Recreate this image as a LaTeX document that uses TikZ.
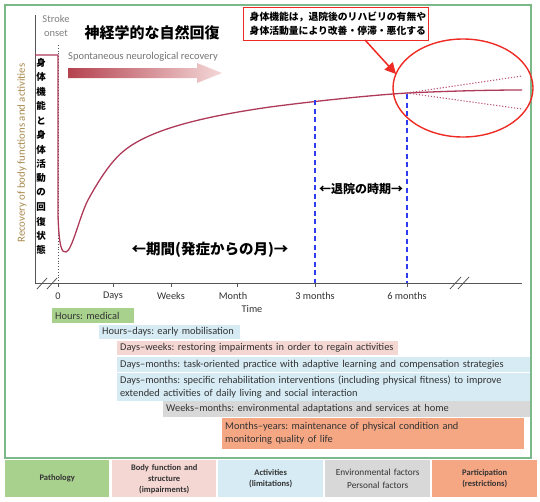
\documentclass[tikz,border=0pt]{standalone}
\usepackage{fontspec}
\setmainfont{Carlito}
\newfontfamily\jp{Noto Sans CJK JP}
\usetikzlibrary{arrows.meta}
\definecolor{framegreen}{HTML}{7DB88A}
\definecolor{curvered}{HTML}{AE3A5A}
\definecolor{axisgray}{HTML}{555555}
\definecolor{bartext}{HTML}{333333}
\definecolor{labelgold}{HTML}{A8894C}
\definecolor{fillgreen}{HTML}{A9D18E}
\definecolor{fillpink}{HTML}{F4D6D2}
\definecolor{fillblue}{HTML}{D6EBF4}
\definecolor{fillgray}{HTML}{D8D8D8}
\definecolor{fillsalmon}{HTML}{F5A784}
\definecolor{shadedark}{HTML}{B4424F}
\definecolor{shadelight}{HTML}{F4D8D8}
\definecolor{markred}{HTML}{EE2A24}
\definecolor{dashblue}{HTML}{2F3CF0}
\frenchspacing
\begin{document}
\begin{tikzpicture}[x=1pt,y=-1pt,
    every node/.style={inner sep=0pt},
    bar/.style={anchor=north west, inner xsep=3pt, align=left, text=bartext,
        font=\fontsize{10.4}{13}\selectfont},
    cell/.style={anchor=north west, minimum height=37pt, text width=105pt, align=center,
        text=bartext, font=\bfseries\fontsize{8.5}{11}\selectfont},
    tick/.style={text=bartext, font=\fontsize{10.3}{12}\selectfont},
    curve/.style={curvered, line width=1.3pt},
    branch/.style={curvered!85, line width=1.1pt, dash pattern=on 1.2pt off 1.8pt},
    jpbold/.style={font=\jp\bfseries}]
    \useasboundingbox (0,0) rectangle (540,501);
    % frame
    \draw [framegreen, line width=1.2pt] (5,5) rectangle (531,458);
    % axes
    \draw [axisgray, line width=0.9pt] (35,15) -- (35,283) -- (522,283);
    \draw [axisgray, dotted, line width=0.8pt] (58,45) -- (58,283);
    \foreach \x in {58,113,171,237,315,407}
        \draw [axisgray, line width=0.7pt] (\x,283) -- (\x,287);
    \draw [axisgray, line width=0.8pt] (37,289) -- (47,278) (47,289) -- (57,278);
    \draw [axisgray, line width=0.8pt] (450,289) -- (461,277) (458,289) -- (469,277);
    \node [tick] (t0) at (58,296) {0};
    \node [tick] (tdays) at (113,296) {Days};
    \node [tick] (tweeks) at (171,296) {Weeks};
    \node [tick] (tmonth) at (233,296) {Month};
    \node [tick] (tthree) at (315,296) {3 months};
    \node [tick] (tsix) at (407,296) {6 months};
    \node [tick] (time) at (252,309) {Time};
    % header texts
    \node [align=center, text=gray, font=\fontsize{10.5}{13.5}\selectfont] (onset) at (56,26) {Stroke\\onset};
    \node [jpbold, font=\jp\bfseries\fontsize{15}{18}\selectfont] (natural) at (152,33) {神経学的な自然回復};
    \node [text=gray!90!black, font=\fontsize{10.5}{12}\selectfont, anchor=west] (spont) at (68,57) {Spontaneous neurological recovery};
    \shade [left color=shadedark, right color=shadelight]
        (68,68) -- (197,68) -- (197,63) -- (222,73) -- (197,83) -- (197,78) -- (68,78) -- cycle;
    % y label
    \node [rotate=90, text=labelgold, font=\fontsize{10.8}{12}\selectfont] (ylab) at (22,153) {Recovery of body functions and activities};
    \foreach \c [count=\i] in {身,体,機,能,と,身,体,活,動,の,回,復,状,態}
        \node [font=\jp\bfseries\fontsize{9.5}{10}\selectfont] at (41,{63+14.4*(\i-1)}) {\c};
    % recovery curve
    \draw [curve] (35,55) -- (58,55) -- (58,215)
        .. controls (59,248) and (62,253) .. (66,252)
        .. controls (72,251) and (80,215) .. (88,200)
        .. controls (100,178) and (112,160) .. (125,150)
        .. controls (150,130) and (200,117) .. (270,107)
        .. controls (300,103) and (360,96) .. (407,93)
        .. controls (450,91) and (490,90) .. (522,90);
    \coordinate (fork) at (407,93);
    \coordinate (upend) at (522,76);
    \coordinate (downend) at (522,109);
    \draw [branch] (fork) -- (upend);
    \draw [branch] (fork) -- (downend);
    % discharge period
    \draw [dashblue, line width=1.1pt, dash pattern=on 5pt off 3.5pt] (315,100) -- (315,283);
    \draw [dashblue, line width=1.1pt, dash pattern=on 5pt off 3.5pt] (407,94) -- (407,283);
    \node [jpbold, font=\jp\bfseries\fontsize{12}{14}\selectfont] (disch) at (361,189) {←退院の時期→};
    \node [jpbold, font=\jp\bfseries\fontsize{14.5}{16}\selectfont] (period) at (210,250) {←期間(発症からの月)→};
    % note and ellipse
    \draw [markred, line width=1.4pt] (463,88) ellipse (70pt and 49pt);
    \node [draw=markred, line width=1.4pt, anchor=north west, minimum width=185pt, minimum height=33pt,
        align=left, inner xsep=6pt, text width=173pt, font=\jp\bfseries\fontsize{9.8}{14}\selectfont] (note) at (243,7)
        {身体機能は，退院後のリハビリの有無や\\身体活動量により改善・停滞・悪化する};
    \coordinate (nstart) at (365,40);
    \coordinate (ntip) at (396,74);
    \draw [markred, line width=1.5pt, -{Triangle[length=11pt,width=11pt]}] (nstart) -- (ntip);
    % intervention bars
    \node [bar, fill=fillgreen, text width=76pt, minimum height=15pt] (medical) at (52,308) {Hours: medical};
    \node [bar, fill=fillblue, text width=135pt, minimum height=14pt] (mobil) at (99,325) {Hours–days: early mobilisation};
    \node [bar, fill=fillpink, text width=275pt, minimum height=14pt] (restore) at (117,341) {Days–weeks: restoring impairments in order to regain activities};
    \node [bar, fill=fillblue, text width=407pt, minimum height=14.5pt] (taskor) at (117,357) {Days–months: task-oriented practice with adaptive learning and compensation strategies};
    \node [bar, fill=fillblue, text width=407pt, minimum height=28pt] (specif) at (117,372.5) {Days–months: specific rehabilitation interventions (including physical fitness) to improve\\extended activities of daily living and social interaction};
    \node [bar, fill=fillgray, text width=361pt, minimum height=16pt] (envhome) at (163,401) {Weeks–months: environmental adaptations and services at home};
    \node [bar, fill=fillsalmon, text width=296pt, minimum height=31pt] (maint) at (222,418) {Months–years: maintenance of physical condition and\\monitoring quality of life};
    % ICF cells
    \node [cell, fill=fillgreen, text width=104pt] (patho) at (5,460) {Pathology};
    \node [cell, fill=fillpink, text width=104pt] (bodyf) at (112,460) {Body function and\\structure\\(impairments)};
    \node [cell, fill=fillblue, text width=105pt] (activ) at (218,460) {Activities\\(limitations)};
    \node [cell, fill=fillgray, text width=105pt, font=\fontsize{9.3}{13}\selectfont] (envir) at (325,460) {Environmental factors\\Personal factors};
    \node [cell, fill=fillsalmon, text width=105pt] (partic) at (432,460) {Participation\\(restrictions)};
\end{tikzpicture}
\end{document}
